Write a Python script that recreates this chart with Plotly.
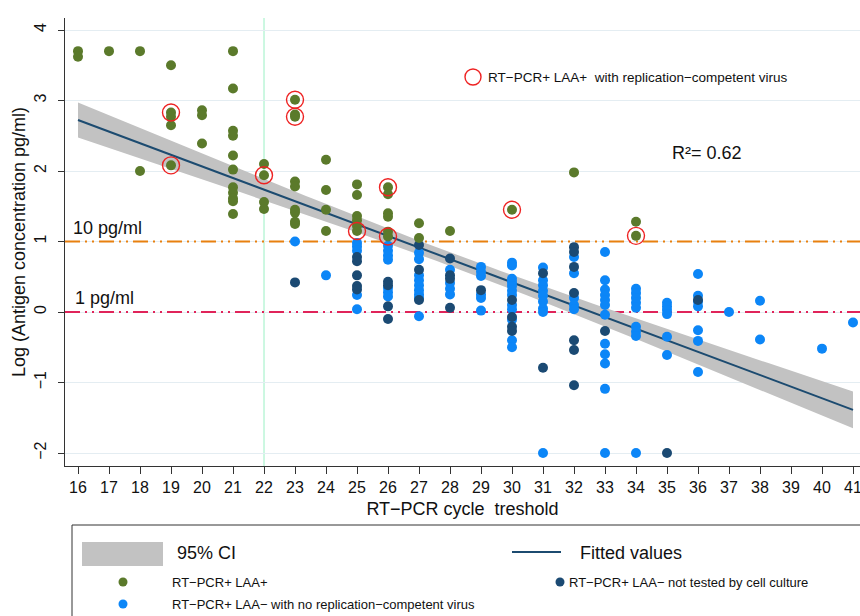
import numpy as np
import plotly.graph_objects as go

# ---------------- data ----------------
# RT-PCR cycle threshold (x) -> log antigen concentration values (y)
laa_pos = {
    16: [3.70, 3.62], 17: [3.70], 18: [3.70, 2.00],
    19: [3.50, 2.83, 2.77, 2.65, 2.08], 20: [2.86, 2.79, 2.39],
    21: [3.70, 3.17, 2.57, 2.50, 2.22, 2.02, 1.77, 1.69, 1.61, 1.57, 1.39],
    22: [2.10, 1.94, 1.56, 1.46],
    23: [3.01, 2.80, 2.77, 1.85, 1.78, 1.45, 1.41, 1.28, 1.25],
    24: [2.16, 1.73, 1.45, 1.15],
    25: [1.81, 1.66, 1.36, 1.30, 1.22, 1.15],
    26: [1.77, 1.67, 1.40, 1.35, 1.14, 1.07],
    27: [1.26, 1.05], 28: [1.15], 30: [1.45], 32: [1.98], 34: [1.28, 1.08],
}
laa_neg_no_virus = {
    23: [1.00], 24: [0.52],
    25: [0.98, 0.93, 0.87, 0.24, 0.04],
    26: [0.94, 0.87, 0.80, 0.74, 0.34, 0.28, 0.22],
    27: [0.84, 0.75, 0.52, 0.45, 0.38, 0.31, 0.25, 0.20, -0.06],
    28: [0.60, 0.41, 0.33, 0.25],
    29: [0.64, 0.57, 0.51, 0.25, 0.20, 0.02],
    30: [0.70, 0.66, 0.47, 0.42, 0.37, 0.30, 0.24, 0.10, 0.04, -0.11, -0.40, -0.50],
    31: [0.63, 0.45, 0.38, 0.30, 0.23, 0.15, 0.05, 0.00, -2.00],
    32: [0.78, 0.55, 0.20, 0.10, 0.04],
    33: [0.85, 0.45, 0.32, 0.24, 0.17, 0.10, -0.04, -0.45, -0.60, -0.73, -1.09, -2.00],
    34: [0.33, 0.27, 0.20, 0.13, 0.06, -0.21, -0.28, -0.34, -2.00],
    35: [0.13, 0.08, 0.03, -0.03, -0.35, -0.61],
    36: [0.54, 0.23, 0.15, 0.08, -0.26, -0.41, -0.85],
    37: [0.00], 38: [0.16, -0.39], 40: [-0.52], 41: [-0.15],
}
laa_neg_not_tested = {
    23: [0.42],
    25: [0.78, 0.72, 0.52, 0.37, 0.32],
    26: [0.43, 0.38, 0.08, -0.10],
    27: [0.95, 0.60, 0.17],
    28: [0.76, 0.52, 0.47, 0.06],
    29: [0.31],
    30: [0.17, -0.07, -0.21, -0.27],
    31: [0.55, -0.79],
    32: [0.92, 0.85, 0.64, 0.27, -0.40, -0.54, -1.04],
    33: [-0.27], 35: [-2.00], 36: [0.17],
}
# LAA+ samples with replication-competent virus (circled)
circled_x = [19, 19, 22, 23, 23, 25, 26, 26, 30, 34]
circled_y = [2.83, 2.08, 1.94, 3.01, 2.77, 1.15, 1.77, 1.07, 1.45, 1.08]

x_ticks = list(range(16, 42))
y_ticks = [-2, -1, 0, 1, 2, 3, 4]
ref_levels = [1, 0]
ref_labels = ["10 pg/ml", "1 pg/ml"]
vline_x = 22
r2_text = "R²= 0.62"


def flatten(d):
    xs, ys = [], []
    for k, vals in d.items():
        for v in vals:
            xs.append(k)
            ys.append(v)
    return np.array(xs, float), np.array(ys, float)


gx, gy = flatten(laa_pos)
lx, ly = flatten(laa_neg_no_virus)
dx, dy = flatten(laa_neg_not_tested)

# ---------------- linear fit with 95% CI ----------------
ax = np.concatenate([gx, lx, dx])
ay = np.concatenate([gy, ly, dy])
n = len(ax)
slope, intercept = np.polyfit(ax, ay, 1)
resid = ay - (intercept + slope * ax)
s = np.sqrt(np.sum(resid ** 2) / (n - 2))
xbar = ax.mean()
sxx = np.sum((ax - xbar) ** 2)
fx = np.linspace(16, 41, 120)
fy = intercept + slope * fx
half = 1.976 * s * np.sqrt(1 / n + (fx - xbar) ** 2 / sxx)

# ---------------- colours ----------------
GREEN = "#5b7a2b"
LIGHT = "#0c86f7"
DARK = "#1b4a73"
FITC = "#1c4b70"
CIC = "#c2c2c2"
RED = "#ee2222"
REF_COLORS = ["#e8800f", "#e0245a"]
FONT = "Liberation Sans, Arial, Helvetica, sans-serif"

# plot area in pixels
L, R, T, B = 65, 860, 18, 466
x_lo = 16 - (78 - L) / 31
x_hi = 16 + (R - 78) / 31
y_lo = -(B - 312) / 70.5
y_hi = (312 - T) / 70.5

fig = go.Figure()
# horizontal reference lines (10 pg/ml and 1 pg/ml)
for lvl, col in zip(ref_levels, REF_COLORS):
    fig.add_trace(go.Scatter(x=[x_lo, x_hi], y=[lvl, lvl], mode="lines",
                             line=dict(color=col, width=1.8,
                                       dash="15px,5px,2px,5px,2px,5px"),
                             hoverinfo="skip", showlegend=False))
fig.add_trace(go.Scatter(x=np.concatenate([fx, fx[::-1]]),
                         y=np.concatenate([fy + half, (fy - half)[::-1]]),
                         fill="toself", fillcolor=CIC, line=dict(width=0),
                         mode="lines", hoverinfo="skip", showlegend=False))
fig.add_trace(go.Scatter(x=fx, y=fy, mode="lines", line=dict(color=FITC, width=2),
                         showlegend=False))
fig.add_trace(go.Scatter(x=lx, y=ly, mode="markers",
                         marker=dict(color=LIGHT, size=10, line=dict(width=0)),
                         showlegend=False))
fig.add_trace(go.Scatter(x=dx, y=dy, mode="markers",
                         marker=dict(color=DARK, size=10, line=dict(width=0)),
                         showlegend=False))
fig.add_trace(go.Scatter(x=gx, y=gy, mode="markers",
                         marker=dict(color=GREEN, size=10, line=dict(width=0)),
                         showlegend=False))
fig.add_trace(go.Scatter(x=circled_x, y=circled_y, mode="markers",
                         marker=dict(symbol="circle-open", color=RED, size=17,
                                     line=dict(width=1.4, color=RED)),
                         showlegend=False))


def px(x):
    return (x - L) / (R - L)


def py(y):
    return (B - y) / (B - T)


shapes = []
# vertical reference line
shapes.append(dict(type="line", xref="x", yref="paper", x0=vline_x, x1=vline_x,
                   y0=0, y1=1, line=dict(color="#9af0c4", width=1), layer="below"))

# bottom legend box
shapes.append(dict(type="rect", xref="paper", yref="paper", x0=px(72), x1=px(880),
                   y0=py(640), y1=py(525), line=dict(color="#333333", width=1)))
shapes.append(dict(type="rect", xref="paper", yref="paper", x0=px(82), x1=px(163),
                   y0=py(566), y1=py(542), fillcolor=CIC, line=dict(width=0)))
shapes.append(dict(type="line", xref="paper", yref="paper", x0=px(512), x1=px(561),
                   y0=py(552), y1=py(552), line=dict(color=FITC, width=2)))
for cx, cy, col in [(123, 582, GREEN), (123, 604, LIGHT), (560, 582, DARK)]:
    shapes.append(dict(type="circle", xref="paper", yref="paper",
                       x0=px(cx - 4.5), x1=px(cx + 4.5), y0=py(cy + 4.5), y1=py(cy - 4.5),
                       fillcolor=col, line=dict(width=0)))
# in-plot legend circle
shapes.append(dict(type="circle", xref="paper", yref="paper",
                   x0=px(465), x1=px(481), y0=py(85), y1=py(69),
                   line=dict(color=RED, width=1.4)))

annotations = []


def txt(x, y, t, size):
    annotations.append(dict(xref="paper", yref="paper", x=px(x), y=py(y), text=t,
                            showarrow=False, xanchor="left", yanchor="middle",
                            font=dict(size=size, color="#111111", family=FONT)))


txt(71, 228, ref_labels[0], 18)
txt(73, 298, ref_labels[1], 18)
txt(670, 153, r2_text, 18)
txt(486, 77, "RT−PCR+ LAA+  with replication−competent virus", 13.5)
txt(175, 553, "95% CI", 18)
txt(578, 553, "Fitted values", 18)
txt(170, 582, "RT−PCR+ LAA+", 13)
txt(567, 582, "RT−PCR+ LAA− not tested by cell culture", 13)
txt(170, 604, "RT−PCR+ LAA− with no replication−competent virus", 13)

fig.update_layout(
    width=860, height=616,
    margin=dict(l=L, r=860 - R, t=T, b=616 - B, autoexpand=False),
    paper_bgcolor="white", plot_bgcolor="white",
    font=dict(family=FONT, color="#111111"),
    shapes=shapes, annotations=annotations,
    xaxis=dict(range=[x_lo, x_hi], tickmode="array", tickvals=x_ticks,
               ticktext=[str(v) for v in x_ticks], showgrid=False, zeroline=False,
               showline=True, linecolor="#333333", linewidth=1.3, automargin=False,
               ticks="outside", ticklen=7, tickcolor="#333333", tickwidth=1.2,
               ticklabeloverflow="allow",
               tickfont=dict(size=16, family=FONT, color="#111111"),
               title=dict(text="RT−PCR cycle  treshold", standoff=7,
                          font=dict(size=18, family=FONT, color="#111111"))),
    yaxis=dict(range=[y_lo, y_hi], tickmode="array", tickvals=y_ticks,
               ticktext=[str(v).replace("-", "−") for v in y_ticks], tickangle=-90,
               showgrid=True, gridcolor="#e4edf2", gridwidth=1, zeroline=False,
               showline=True, linecolor="#333333", linewidth=1.3, automargin=False,
               ticks="outside", ticklen=6, tickcolor="#333333", tickwidth=1.2,
               ticklabelstandoff=5,
               tickfont=dict(size=16, family=FONT, color="#111111"),
               title=dict(text="Log (Antigen concentration pg/ml)", standoff=2,
                          font=dict(size=18, family=FONT, color="#111111"))),
    showlegend=False,
)

fig.write_html("out.html", config={"displayModeBar": False},
               post_script="document.body.style.margin='0px';document.body.style.overflow='hidden';")
